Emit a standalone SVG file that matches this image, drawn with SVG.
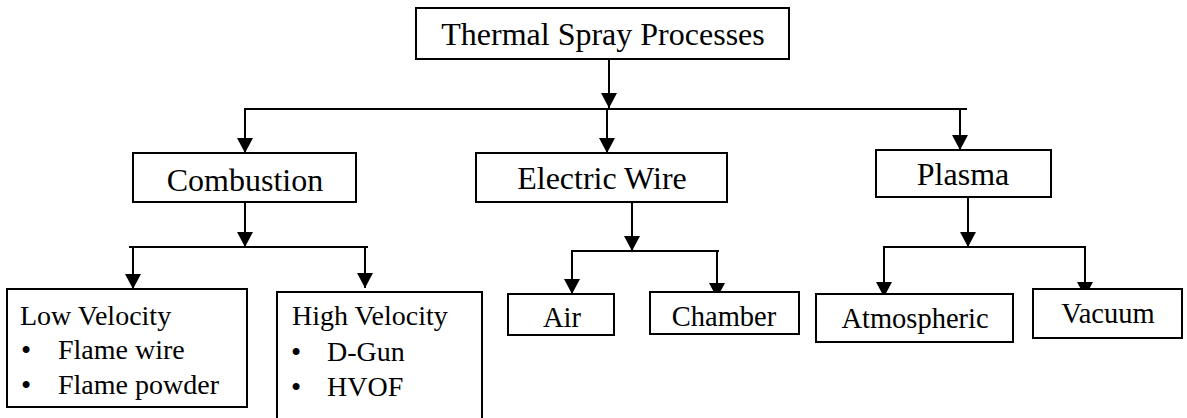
<svg xmlns="http://www.w3.org/2000/svg" width="1187" height="418" viewBox="0 0 1187 418">
<style>
.box{fill:#fff;stroke:#000;stroke-width:2}
.ln{stroke:#000;stroke-width:2;fill:none}
text{font-family:'Liberation Serif',serif;fill:#000}
.big{font-size:32px;text-anchor:middle}
.mid{font-size:28.5px;text-anchor:middle}
.lst{font-size:28px}
.bul{font-size:29px;text-anchor:middle}
</style>
<defs>
<marker id="ah" markerUnits="userSpaceOnUse" markerWidth="18" markerHeight="18" viewBox="0 0 18 18" refX="15" refY="9" orient="auto">
<path d="M0,1 L15,9 L0,17 Z" fill="#000"/>
</marker>
</defs>
<g id="connectors">
<path class="ln" d="M609,59 V108" marker-end="url(#ah)"/>
<path class="ln" d="M244,109 H967"/>
<path class="ln" d="M245,109 V153" marker-end="url(#ah)"/>
<path class="ln" d="M607,109 V153" marker-end="url(#ah)"/>
<path class="ln" d="M960,109 V150" marker-end="url(#ah)"/>
<path class="ln" d="M245,202 V247" marker-end="url(#ah)"/>
<path class="ln" d="M129,247 H368"/>
<path class="ln" d="M133,247 V289" marker-end="url(#ah)"/>
<path class="ln" d="M365,247 V288" marker-end="url(#ah)"/>
<path class="ln" d="M632,202 V251" marker-end="url(#ah)"/>
<path class="ln" d="M571,251 H719"/>
<path class="ln" d="M572,251 V294" marker-end="url(#ah)"/>
<path class="ln" d="M717,251 V298" marker-end="url(#ah)"/>
<path class="ln" d="M968,197 V247" marker-end="url(#ah)"/>
<path class="ln" d="M883,247 H1086"/>
<path class="ln" d="M884,247 V297" marker-end="url(#ah)"/>
<path class="ln" d="M1085,247 V297" marker-end="url(#ah)"/>
</g>
<g id="thermal">
<rect class="box" x="416" y="8" width="373" height="51"/>
<text class="big" x="603" y="45">Thermal Spray Processes</text>
</g>
<g id="combustion">
<rect class="box" x="133" y="153" width="223" height="49"/>
<text class="big" x="245" y="191">Combustion</text>
</g>
<g id="electric">
<rect class="box" x="476" y="153" width="251" height="49"/>
<text class="big" x="602" y="189">Electric Wire</text>
</g>
<g id="plasma">
<rect class="box" x="876" y="150" width="175" height="47"/>
<text class="big" x="963" y="185">Plasma</text>
</g>
<g id="low">
<rect class="box" x="7" y="289" width="240" height="118"/>
<text class="lst" x="20" y="325">Low Velocity</text>
<text class="bul" x="26" y="360">•</text>
<text class="lst" x="58" y="359">Flame wire</text>
<text class="bul" x="26" y="395">•</text>
<text class="lst" x="58" y="394">Flame powder</text>
</g>
<g id="high">
<rect class="box" x="277" y="292" width="205" height="135"/>
<text class="lst" x="292" y="325">High Velocity</text>
<text class="bul" x="296" y="362">•</text>
<text class="lst" x="327" y="361">D-Gun</text>
<text class="bul" x="296" y="397">•</text>
<text class="lst" x="327" y="396">HVOF</text>
</g>
<g id="air">
<rect class="box" x="508" y="294" width="106" height="41"/>
<text class="mid" x="562" y="327">Air</text>
</g>
<g id="chamber">
<rect class="box" x="650" y="292" width="149" height="42"/>
<text class="mid" x="724" y="326">Chamber</text>
</g>
<g id="atmospheric">
<rect class="box" x="816" y="294" width="197" height="48"/>
<text class="mid" x="915" y="328">Atmospheric</text>
</g>
<g id="vacuum">
<rect class="box" x="1033" y="289" width="149" height="49"/>
<text class="mid" x="1108" y="323">Vacuum</text>
</g>
</svg>
